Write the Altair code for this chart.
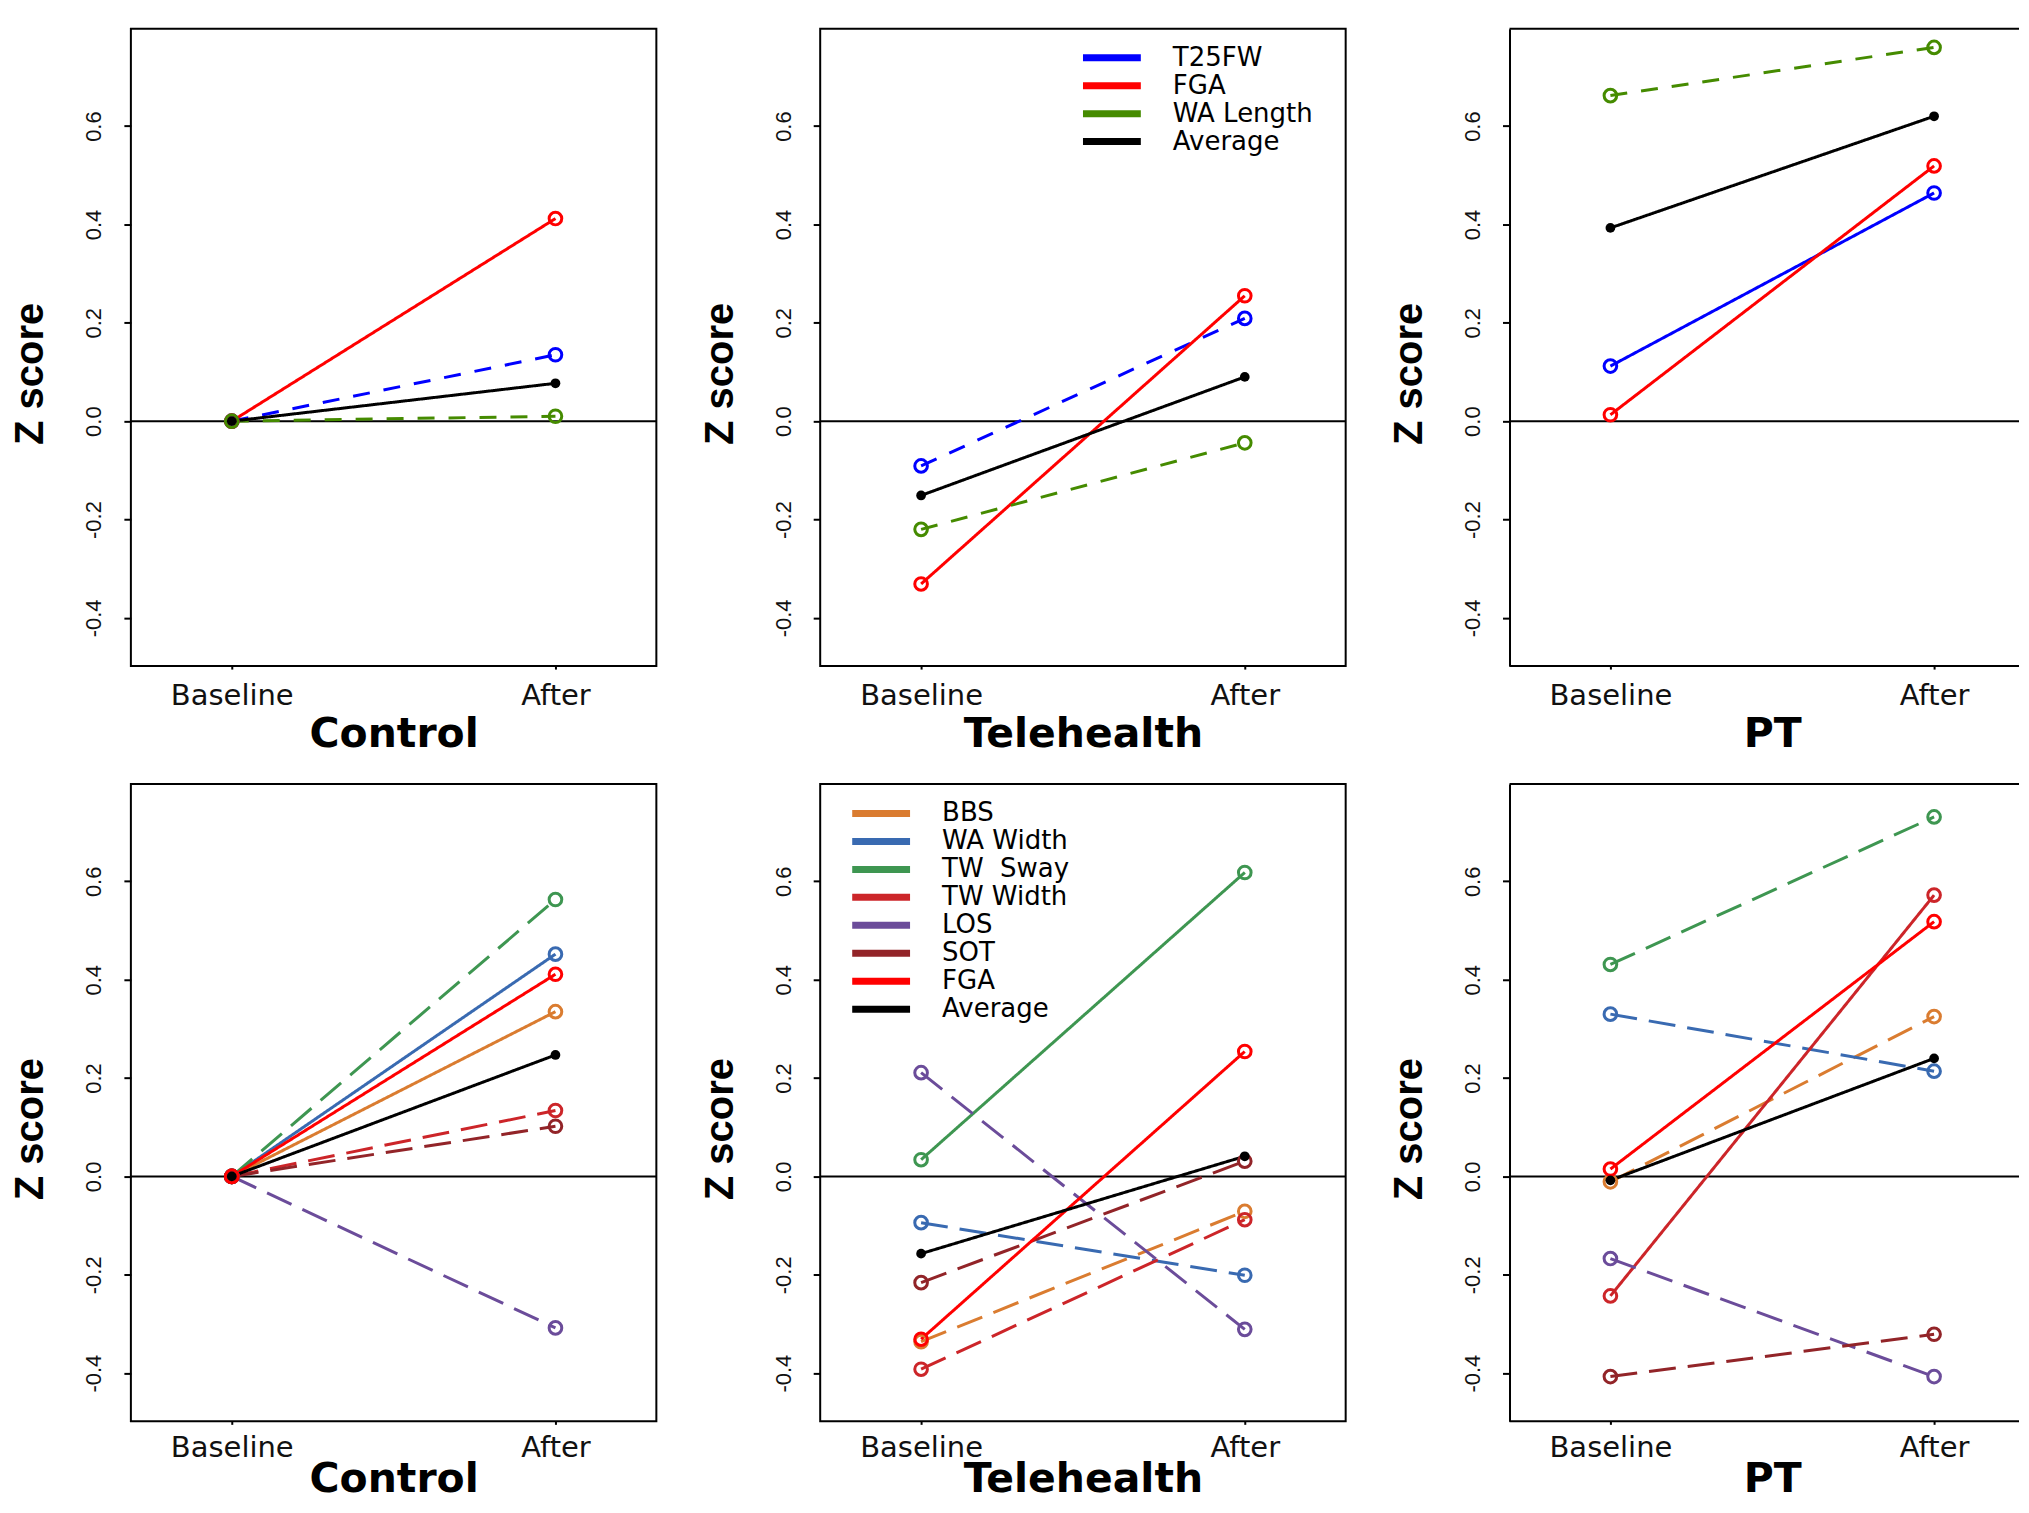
import altair as alt
import pandas as pd

TIMES = ["Baseline", "After"]

# ---- top row (T25FW, FGA, WA Length, Average) ----
top_measures = ["T25FW", "FGA", "WA Length", "Average"]
top_colors = ["#0000FF", "#FF0000", "#458B00", "#000000"]
top_control_baseline = [0.0, 0.0, 0.0, 0.0]
top_control_after = [0.135, 0.412, 0.010, 0.077]
top_tele_baseline = [-0.091, -0.331, -0.220, -0.151]
top_tele_after = [0.209, 0.255, -0.044, 0.090]
top_pt_baseline = [0.112, 0.013, 0.662, 0.393]
top_pt_after = [0.464, 0.519, 0.760, 0.620]

# ---- bottom row ----
bot_measures = ["BBS", "WA Width", "TW\u00a0\u00a0Sway", "TW Width", "LOS", "SOT", "FGA", "Average"]
bot_colors = ["#DA7C30", "#396AB1", "#3E9651", "#CC2529", "#6B4C9A", "#922428", "#FF0000", "#000000"]
bot_control_baseline = [0.0, 0.0, 0.0, 0.0, 0.0, 0.0, 0.0, 0.0]
bot_control_after = [0.335, 0.452, 0.563, 0.134, -0.308, 0.102, 0.411, 0.247]
bot_tele_baseline = [-0.336, -0.094, 0.034, -0.392, 0.211, -0.216, -0.331, -0.157]
bot_tele_after = [-0.071, -0.201, 0.618, -0.088, -0.311, 0.031, 0.254, 0.041]
bot_pt_baseline = [-0.011, 0.330, 0.431, -0.243, -0.167, -0.407, 0.015, -0.008]
bot_pt_after = [0.325, 0.214, 0.731, 0.572, -0.407, -0.321, 0.518, 0.240]

# which series are drawn dashed in each panel
top_dashed = {
    "Control": ["T25FW", "WA Length"],
    "Telehealth": ["T25FW", "WA Length"],
    "PT": ["WA Length"],
}
bot_dashed = {
    "Control": ["TW\u00a0\u00a0Sway", "TW Width", "LOS", "SOT"],
    "Telehealth": ["BBS", "WA Width", "TW Width", "LOS", "SOT"],
    "PT": ["BBS", "WA Width", "TW\u00a0\u00a0Sway", "LOS", "SOT"],
}

Y_TICKS = [-0.4, -0.2, 0.0, 0.2, 0.4, 0.6]
Y_DOMAIN = [-0.498, 0.798]
W, W3, H = 526, 510, 638


def build_df(measures, baseline, after, dashed):
    rows = []
    for m, b, a in zip(measures, baseline, after):
        style = "dashed" if m in dashed else "solid"
        rows.append({"measure": m, "time": TIMES[0], "z": b, "style": style})
        rows.append({"measure": m, "time": TIMES[1], "z": a, "style": style})
    return pd.DataFrame(rows)


def make_legend(lx, ly, row_pad):
    return alt.Legend(
        orient="none", legendX=lx, legendY=ly, title=None, direction="vertical",
        symbolType="M-4.2,0H4.2", symbolSize=190, symbolStrokeWidth=7,
        labelFont="DejaVu Sans", labelFontSize=26, labelColor="black",
        labelOffset=48, rowPadding=row_pad, padding=0, labelLimit=400,
    )


def panel(df, group, measures, colors, dash, width, legend=None, open_right=False,
          title_y=80, label_pad=35):
    xaxis = alt.Axis(
        title=group, labelAngle=0, labelFont="DejaVu Sans", labelFontSize=29, labelColor="#111",
        labelBaseline="alphabetic", labelPadding=label_pad, tickSize=3, tickWidth=2, tickColor="black",
        domain=False, grid=False, titleFont="DejaVu Sans", titleFontSize=41, titleFontWeight="bold",
        titleColor="black", titleX=263, titleY=title_y, titleAlign="center", titleBaseline="alphabetic",
    )
    yaxis = alt.Axis(
        values=Y_TICKS, labelExpr="replace(format(datum.value, '.1f'), '\u2212', '-')",
        labelAngle=270, labelAlign="center", labelBaseline="middle", labelPadding=30,
        labelFont="Liberation Sans", labelFontSize=22, labelColor="#111",
        tickSize=7, tickWidth=2, tickColor="black", grid=False,
        domain=open_right, domainColor="black", domainWidth=2,
        title="Z score", titleFont="Liberation Sans", titleFontSize=40, titleFontWeight="bold",
        titleColor="black", titleAngle=270, titleX=-100, titleY=345, titleAlign="center",
        titleBaseline="middle",
    )
    x = alt.X("time:N", sort=TIMES,
              scale=alt.Scale(type="point", domain=TIMES, range=[101, 425], padding=0), axis=xaxis)
    y = alt.Y("z:Q", scale=alt.Scale(domain=Y_DOMAIN, nice=False, zero=False), axis=yaxis)
    cscale = alt.Scale(domain=measures, range=colors)

    zero_df = pd.DataFrame({"z": [0.0]})
    zero = alt.Chart(zero_df).mark_rule(color="black", strokeWidth=2).encode(y=y)

    lines = alt.Chart(df).mark_line(strokeWidth=3).encode(
        x=x, y=y,
        color=alt.Color("measure:N", scale=cscale, legend=legend),
        strokeDash=alt.StrokeDash("style:N", scale=alt.Scale(domain=["solid", "dashed"], range=[[1, 0], dash]), legend=None),
        detail="measure:N",
    )
    pts = alt.Chart(df).transform_filter("datum.measure != 'Average'").mark_point(
        shape="circle", filled=False, size=160, strokeWidth=3, opacity=1
    ).encode(x=x, y=y, color=alt.Color("measure:N", scale=cscale, legend=None))
    avg = alt.Chart(df).transform_filter("datum.measure == 'Average'").mark_circle(
        size=95, color="black", opacity=1
    ).encode(x=x, y=y)

    layers = [zero, lines, pts, avg]
    props = dict(width=width, height=H)
    if open_right:
        top_line = alt.Chart(zero_df).mark_rule(color="black", strokeWidth=2).encode(y=alt.value(0))
        bot_line = alt.Chart(zero_df).mark_rule(color="black", strokeWidth=2).encode(y=alt.value(H))
        layers += [top_line, bot_line]
        props["view"] = alt.ViewBackground(stroke="transparent")
    return alt.layer(*layers).properties(**props)


TOP_DASH = [17, 14]
BOT_DASH = [27, 12]

p1 = panel(build_df(top_measures, top_control_baseline, top_control_after, top_dashed["Control"]),
           "Control", top_measures, top_colors, TOP_DASH, W)
p2 = panel(build_df(top_measures, top_tele_baseline, top_tele_after, top_dashed["Telehealth"]),
           "Telehealth", top_measures, top_colors, TOP_DASH, W, legend=make_legend(279, 16, 0))
p3 = panel(build_df(top_measures, top_pt_baseline, top_pt_after, top_dashed["PT"]),
           "PT", top_measures, top_colors, TOP_DASH, W3, open_right=True)
p4 = panel(build_df(bot_measures, bot_control_baseline, bot_control_after, bot_dashed["Control"]),
           "Control", bot_measures, bot_colors, BOT_DASH, W, title_y=70, label_pad=32)
p5 = panel(build_df(bot_measures, bot_tele_baseline, bot_tele_after, bot_dashed["Telehealth"]),
           "Telehealth", bot_measures, bot_colors, BOT_DASH, W, legend=make_legend(48, 16.5, 0),
           title_y=70, label_pad=32)
p6 = panel(build_df(bot_measures, bot_pt_baseline, bot_pt_after, bot_dashed["PT"]),
           "PT", bot_measures, bot_colors, BOT_DASH, W3, open_right=True, title_y=70, label_pad=32)

chart = alt.concat(
    p1, p2, p3, p4, p5, p6, columns=3, bounds="flush",
    spacing=alt.RowColnumber(row=118, column=164),
).resolve_scale(
    color="independent", strokeDash="independent"
).configure_view(
    stroke="black", strokeWidth=2
).properties(
    padding={"left": 2, "top": 18, "right": 0, "bottom": 2},
    background="white",
)

chart.save("out.html", embed_options={"renderer": "svg", "actions": False})
